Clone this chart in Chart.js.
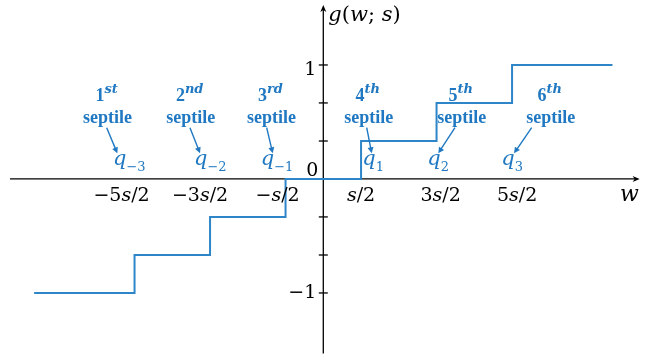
<!DOCTYPE html>
<html><head><meta charset="utf-8">
<script src="https://cdn.jsdelivr.net/npm/chart.js@4.4.1/dist/chart.umd.min.js"></script>
<style>html,body{margin:0;padding:0;background:#fff}#wrap{width:662px;height:356px;position:relative}</style>
</head><body><div id="wrap"><canvas id="c"></canvas></div>
<script>
// ---- data ----
const stepX = [-3.83, -2.5, -1.5, -0.5, 0.5, 1.5, 2.5, 3.83];
const stepY = [-1, -0.667, -0.333, 0, 0.333, 0.667, 1, 1];
const xTickValues = [-2.5, -1.5, -0.5, 0.5, 1.5, 2.5];
const xTickLabels = [['−5','s','/2'], ['−3','s','/2'], ['−','s','/2'], ['','s','/2'], ['3','s','/2'], ['5','s','/2']];
const yTickValues = [-1, -0.667, -0.333, 0.333, 0.667, 1];
const yTickLabels = ['−1', '', '', '', '', '1'];
const originLabel = '0';
const ordinals = ['1', '2', '3', '4', '5', '6'];
const ordinalSuffix = ['st', 'nd', 'rd', 'th', 'th', 'th'];
const septileWord = 'septile';
const quantileSubs = ['−3', '−2', '−1', '1', '2', '3'];
const axisTitleX = 'w';
const axisTitleY = [['g', 'i'], ['(', 'r'], ['w', 'i'], ['; ', 'r'], ['s', 'i'], [')', 'r']];
// annotation anchors in data units (w in units of s, g value)
const labelCenterX = [-2.87, -1.77, -0.70, 0.59, 1.82, 3.0];
const arrowFromX = [-2.869, -1.766, -0.75, 0.575, 1.744, 2.76];
const arrowToX = [-2.728, -1.633, -0.67, 0.641, 1.523, 2.526];
const quantileX = [-2.772, -1.699, -0.816, 0.53, 1.391, 2.371];

// ---- style ----
const BLUE_TEXT = '#1F78C1';
const BLUE_LINE = '#2E86C8';
const SERIF = '"DejaVu Serif", serif';
const TNR = '"Liberation Serif", serif';

function drawRich(ctx, segs, x, y, align) {
  let w = 0;
  segs.forEach(s => { ctx.font = s.f; w += ctx.measureText(s.t).width; });
  let cx = align === 'center' ? x - w / 2 : align === 'right' ? x - w : x;
  ctx.textAlign = 'left';
  ctx.textBaseline = 'alphabetic';
  segs.forEach(s => {
    ctx.font = s.f;
    ctx.fillText(s.t, cx, y + (s.dy || 0));
    cx += ctx.measureText(s.t).width;
  });
}

const axesPlugin = {
  id: 'mathAxes',
  beforeDatasetsDraw(chart) {
    const ctx = chart.ctx, xs = chart.scales.x, ys = chart.scales.y;
    const x0 = xs.getPixelForValue(0), y0 = ys.getPixelForValue(0);
    ctx.save();
    ctx.strokeStyle = '#000'; ctx.fillStyle = '#000'; ctx.lineWidth = 1.3;
    // x axis
    const xl = xs.getPixelForValue(-4.15), xr = xs.getPixelForValue(4.19);
    ctx.beginPath(); ctx.moveTo(xl, y0); ctx.lineTo(xr - 4, y0); ctx.stroke();
    ctx.beginPath(); ctx.moveTo(xr, y0); ctx.lineTo(xr - 7, y0 - 3); ctx.lineTo(xr - 5, y0); ctx.lineTo(xr - 7, y0 + 3); ctx.closePath(); ctx.fill();
    // y axis
    const yt = ys.getPixelForValue(1.526), yb = ys.getPixelForValue(-1.53);
    ctx.beginPath(); ctx.moveTo(x0, yb); ctx.lineTo(x0, yt + 4); ctx.stroke();
    ctx.beginPath(); ctx.moveTo(x0, yt); ctx.lineTo(x0 - 3, yt + 7); ctx.lineTo(x0, yt + 5); ctx.lineTo(x0 + 3, yt + 7); ctx.closePath(); ctx.fill();
    // y tick marks
    yTickValues.forEach(v => {
      const p = ys.getPixelForValue(v);
      ctx.beginPath(); ctx.moveTo(x0 - 4.5, p); ctx.lineTo(x0 + 4.5, p); ctx.stroke();
    });
    ctx.restore();
  },
  afterDatasetsDraw(chart) {
    const ctx = chart.ctx, xs = chart.scales.x, ys = chart.scales.y;
    const x0 = xs.getPixelForValue(0), y0 = ys.getPixelForValue(0);
    ctx.save();
    ctx.fillStyle = '#000';
    // x tick labels
    const shift = [-13, -10, -8, 0, 4, 5];
    xTickValues.forEach((v, i) => {
      const l = xTickLabels[i];
      drawRich(ctx, [
        { t: l[0], f: '19px ' + SERIF },
        { t: l[1], f: 'italic 19px ' + SERIF },
        { t: l[2], f: '19px ' + SERIF }
      ], xs.getPixelForValue(v) + shift[i], y0 + 22, 'center');
    });
    // y tick labels
    yTickValues.forEach((v, i) => {
      if (!yTickLabels[i]) return;
      const p = ys.getPixelForValue(v);
      drawRich(ctx, [{ t: yTickLabels[i], f: '19px ' + SERIF }], x0 - 7, p + (v > 0 ? 10 : 5), 'right');
    });
    drawRich(ctx, [{ t: originLabel, f: '19px ' + SERIF }], x0 - 5, y0 - 2.5, 'right');
    // axis titles
    drawRich(ctx, [{ t: axisTitleX, f: 'italic 22px ' + SERIF }], xs.getPixelForValue(3.93), y0 + 22, 'left');
    drawRich(ctx, axisTitleY.map(a => ({ t: a[0], f: (a[1] === 'i' ? 'italic ' : '') + '21px ' + SERIF })),
      x0 + 5, ys.getPixelForValue(1.386), 'left');
    // annotations
    ctx.fillStyle = BLUE_TEXT; ctx.strokeStyle = BLUE_TEXT;
    ordinals.forEach((o, i) => {
      const cx = xs.getPixelForValue(labelCenterX[i]);
      drawRich(ctx, [
        { t: o, f: 'bold 18px ' + TNR },
        { t: ordinalSuffix[i], f: 'bold italic 13px ' + SERIF, dy: -8 }
      ], cx, ys.getPixelForValue(0.68), 'center');
      drawRich(ctx, [{ t: septileWord, f: 'bold 18px ' + TNR }], cx + 1, ys.getPixelForValue(0.493), 'center');
      // arrow
      const ax = xs.getPixelForValue(arrowFromX[i]), ay = ys.getPixelForValue(0.45);
      const bx = xs.getPixelForValue(arrowToX[i]), by = ys.getPixelForValue(0.225);
      const ang = Math.atan2(by - ay, bx - ax);
      ctx.lineWidth = 1.4;
      ctx.beginPath(); ctx.moveTo(ax, ay); ctx.lineTo(bx - 4 * Math.cos(ang), by - 4 * Math.sin(ang)); ctx.stroke();
      ctx.beginPath();
      ctx.moveTo(bx, by);
      ctx.lineTo(bx - 6 * Math.cos(ang) + 3 * Math.sin(ang), by - 6 * Math.sin(ang) - 3 * Math.cos(ang));
      ctx.lineTo(bx - 6 * Math.cos(ang) - 3 * Math.sin(ang), by - 6 * Math.sin(ang) + 3 * Math.cos(ang));
      ctx.closePath(); ctx.fill();
      // quantile symbol
      const qx = xs.getPixelForValue(quantileX[i]);
      drawRich(ctx, [
        { t: 'q', f: 'italic 21px ' + SERIF },
        { t: quantileSubs[i], f: '13px ' + SERIF, dy: 6 }
      ], qx - 1, ys.getPixelForValue(0.12), 'left');
    });
    ctx.restore();
  }
};

new Chart(document.getElementById('c'), {
  type: 'line',
  data: {
    datasets: [{
      data: stepX.map((x, i) => ({ x: x, y: stepY[i] })),
      stepped: 'before',
      borderColor: BLUE_LINE,
      borderWidth: 2,
      pointRadius: 0,
      fill: false
    }]
  },
  options: {
    responsive: true,
    maintainAspectRatio: false,
    animation: false,
    events: [],
    layout: { padding: 0 },
    plugins: { legend: { display: false }, tooltip: { enabled: false } },
    scales: {
      x: { type: 'linear', min: -4.282, max: 4.486, display: false },
      y: { type: 'linear', min: -1.553, max: 1.570, display: false }
    }
  },
  plugins: [axesPlugin]
});
</script>
</body></html>
